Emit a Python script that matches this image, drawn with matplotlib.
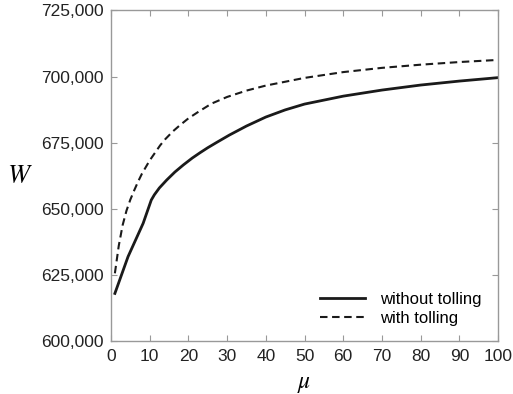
import matplotlib
matplotlib.use("Agg")
import matplotlib.pyplot as plt
from matplotlib.ticker import FuncFormatter

plt.rcParams['font.family'] = ['Liberation Sans', 'DejaVu Sans']
plt.rcParams['mathtext.fontset'] = 'stix'

mu_without = [1, 4.4, 8.3, 10.4, 11.2, 12.5, 14.4, 16.5, 18.7, 21, 23, 25, 27.3, 30.6,
              35, 40, 45, 50, 60, 70, 80, 90, 100]
w_without = [618000, 631900, 644500, 653300, 655300, 657900, 660900, 663900, 666600,
             669200, 671200, 673100, 675100, 677900, 681300, 684700, 687400, 689600,
             692600, 694900, 696800, 698300, 699600]

mu_with = [1, 2, 3, 4, 5, 6, 7, 8, 10, 12.7, 14, 16, 17.8, 20, 22.6, 26, 30, 35, 40,
           50, 60, 70, 80, 90, 100]
w_with = [625600, 636000, 643800, 649300, 653500, 657000, 660300, 663300, 668300,
          674000, 676300, 679300, 681600, 684200, 686700, 689800, 692300, 694700, 696600,
          699500, 701700, 703300, 704500, 705500, 706300]

xticks = [0, 10, 20, 30, 40, 50, 60, 70, 80, 90, 100]
yticks = [600000, 625000, 650000, 675000, 700000, 725000]

fig = plt.figure(figsize=(5.13, 3.94), dpi=100)
ax = fig.add_axes([0.2164, 0.1345, 0.7544, 0.8389])

ax.plot(mu_without, w_without, color='#1a1a1a', lw=2.0, label='without tolling',
        solid_joinstyle='round')
ax.plot(mu_with, w_with, color='#1a1a1a', lw=1.5, dashes=(3.6, 2.2), label='with tolling')

ax.set_xlim(0, 100)
ax.set_ylim(600000, 725000)
ax.set_xticks(xticks)
ax.set_yticks(yticks)
ax.yaxis.set_major_formatter(FuncFormatter(lambda v, p: f"{int(v):,}"))

for s in ax.spines.values():
    s.set_color('#999999')
    s.set_linewidth(1.0)
ax.tick_params(direction='in', length=4, width=0.8, color='#999999',
               labelsize=12.5, labelcolor='#222222', top=True, right=True)
ax.tick_params(axis='x', pad=6)
ax.tick_params(axis='y', pad=5)

ax.set_xlabel(r'$\mu$', fontsize=17, labelpad=6)
ax.set_ylabel(r'$W$', fontsize=19, rotation=0, va='center', ha='center')
ax.yaxis.set_label_coords(-0.235, 0.5)

leg = ax.legend(loc='lower right', frameon=False, fontsize=12, handlelength=2.7,
                handletextpad=0.9, labelspacing=0.25, bbox_to_anchor=(0.995, 0.0))

fig.savefig('out.png', dpi=100)
